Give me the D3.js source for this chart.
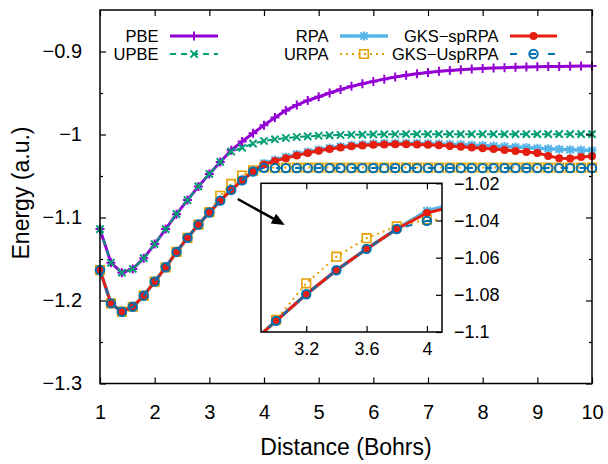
<!DOCTYPE html>
<html><head><meta charset="utf-8">
<script src="https://cdn.jsdelivr.net/npm/d3@7"></script>
<style>body{margin:0;background:#fff}svg{display:block}text{font-family:"Liberation Sans",Arial,Helvetica,sans-serif;fill:#000}</style>
</head><body><svg id="c" width="608" height="464"></svg>
<script>
// ---------------- data ----------------
const distance = [1.0,1.2,1.4,1.6,1.8,2.0,2.2,2.4,2.6,2.8,3.0,3.2,3.4,3.6,3.8,4.0,4.2,4.4,4.6,4.8,5.0,5.2,5.4,5.6,5.8,6.0,6.2,6.4,6.6,6.8,7.0,7.2,7.4,7.6,7.8,8.0,8.2,8.4,8.6,8.8,9.0,9.2,9.4,9.6,9.8,10.0];
const pbe = [-1.114,-1.1545,-1.1665,-1.162,-1.149,-1.132,-1.114,-1.096,-1.079,-1.0625,-1.0475,-1.033,-1.019,-1.0085,-0.9985,-0.9888,-0.9795,-0.971,-0.9645,-0.959,-0.9545,-0.95,-0.9458,-0.942,-0.9388,-0.936,-0.9333,-0.9308,-0.9287,-0.9268,-0.9252,-0.9239,-0.9228,-0.9219,-0.9211,-0.9204,-0.9199,-0.9195,-0.9191,-0.9188,-0.9185,-0.9182,-0.918,-0.9178,-0.9176,-0.9175];
const upbe = [-1.114,-1.1545,-1.1665,-1.162,-1.149,-1.132,-1.114,-1.096,-1.079,-1.0625,-1.0475,-1.033,-1.0205,-1.016,-1.011,-1.0078,-1.0058,-1.0042,-1.003,-1.0022,-1.0015,-1.001,-1.0006,-1.0003,-1.0001,-0.9999,-0.9998,-0.9997,-0.9996,-0.9996,-0.9996,-0.9996,-0.9996,-0.9996,-0.9996,-0.9996,-0.9996,-0.9996,-0.9996,-0.9996,-0.9996,-0.9996,-0.9996,-0.9996,-0.9996,-0.9996];
const rpa = [-1.1633,-1.2035,-1.2135,-1.2075,-1.1942,-1.1773,-1.16,-1.1415,-1.1245,-1.1085,-1.094,-1.0797,-1.0668,-1.0553,-1.0446,-1.0348,-1.0308,-1.0273,-1.024,-1.021,-1.0184,-1.0163,-1.0145,-1.0131,-1.012,-1.0112,-1.0107,-1.0105,-1.0105,-1.0107,-1.011,-1.0113,-1.0117,-1.0122,-1.0127,-1.0133,-1.0139,-1.0145,-1.0152,-1.0158,-1.0165,-1.0171,-1.0177,-1.0183,-1.0188,-1.0193];
const urpa = [-1.1633,-1.2035,-1.2135,-1.2075,-1.1942,-1.1773,-1.16,-1.1415,-1.1245,-1.1085,-1.0935,-1.0738,-1.0595,-1.0495,-1.0432,-1.0395,-1.0398,-1.0398,-1.0398,-1.0398,-1.0398,-1.0398,-1.0398,-1.0398,-1.0398,-1.0398,-1.0398,-1.0398,-1.0398,-1.0398,-1.0398,-1.0398,-1.0398,-1.0398,-1.0398,-1.0398,-1.0398,-1.0398,-1.0398,-1.0398,-1.0398,-1.0398,-1.0398,-1.0398,-1.0398,-1.0398];
const gksSpRpa = [-1.1633,-1.2035,-1.2135,-1.2075,-1.1942,-1.1773,-1.16,-1.1415,-1.1245,-1.1085,-1.094,-1.0797,-1.0668,-1.0553,-1.0446,-1.036,-1.032,-1.0285,-1.0252,-1.0222,-1.0196,-1.0175,-1.0157,-1.0143,-1.0132,-1.0124,-1.0119,-1.0117,-1.0117,-1.0119,-1.0124,-1.013,-1.0138,-1.0147,-1.0156,-1.0166,-1.0176,-1.0187,-1.0198,-1.021,-1.0222,-1.0258,-1.0285,-1.029,-1.027,-1.0262];
const gksUspRpa = [-1.1633,-1.2035,-1.2135,-1.2075,-1.1942,-1.1773,-1.16,-1.1415,-1.1245,-1.1085,-1.094,-1.0797,-1.0668,-1.0553,-1.0446,-1.0402,-1.0405,-1.0405,-1.0405,-1.0405,-1.0405,-1.0405,-1.0405,-1.0405,-1.0405,-1.0405,-1.0405,-1.0405,-1.0405,-1.0405,-1.0405,-1.0405,-1.0405,-1.0405,-1.0405,-1.0405,-1.0405,-1.0405,-1.0405,-1.0405,-1.0405,-1.0405,-1.0405,-1.0405,-1.0405,-1.0405];
const seriesNames = ["PBE","UPBE","RPA","URPA","GKS\u2212spRPA","GKS\u2212UspRPA"];
const insetSeries = [2,3,4,5];
const xTicks = [1,2,3,4,5,6,7,8,9,10];
const xTickLabels = ["1","2","3","4","5","6","7","8","9","10"];
const yTicks = [-1.3,-1.2,-1.1,-1,-0.9];
const yTickLabels = ["\u22121.3","\u22121.2","\u22121.1","\u22121","\u22120.9"];
const yMinorTicks = [-1.25,-1.15,-1.05,-0.95];
const insetXTicks = [3.2,3.6,4];
const insetXTickLabels = ["3.2","3.6","4"];
const insetYTicks = [-1.1,-1.08,-1.06,-1.04,-1.02];
const insetYTickLabels = ["\u22121.1","\u22121.08","\u22121.06","\u22121.04","\u22121.02"];
const arrowFrom = [3.52,-1.0777];
const arrowTo = [4.38,-1.109];

// ---------------- styles ----------------
const styles = [
  {color:"#9400d3", width:3, dash:null, marker:"plus"},
  {color:"#009e73", width:2, dash:"6,5", marker:"cross"},
  {color:"#56b4e9", width:3.5, dash:null, marker:"star"},
  {color:"#e69f00", width:2, dash:"2,4", marker:"square"},
  {color:"#e51e10", width:3, dash:null, marker:"dot"},
  {color:"#0072b2", width:2, dash:"7,12", marker:"ring"}
];
const allValues = [pbe, upbe, rpa, urpa, gksSpRpa, gksUspRpa];

function markerPath(t){
  const s=4.5, c=3.6, q=4.3, r=4.2;
  if(t==="plus") return `M${-s},0H${s}M0,${-s}V${s}`;
  if(t==="cross") return `M${-c},${-c}L${c},${c}M${-c},${c}L${c},${-c}`;
  if(t==="star") return `M${-s},0H${s}M0,${-s}V${s}M${-c},${-c}L${c},${c}M${-c},${c}L${c},${-c}`;
  if(t==="square") return `M${-q},${-q}H${q}V${q}H${-q}Z`;
  const rr = t==="dot"?4:r;
  return `M${rr},0A${rr},${rr} 0 1,1 ${-rr},0A${rr},${rr} 0 1,1 ${rr},0Z`;
}
function styleMarker(sel, st){
  if(st.marker==="dot") sel.attr("fill",st.color).attr("stroke","none");
  else sel.attr("fill","none").attr("stroke",st.color).attr("stroke-width", st.marker==="square"?1.6:2);
}

const svg = d3.select("#c");
const L=100, R=592, T=10, B=383.5;
const x = d3.scaleLinear().domain([1,10]).range([L,R]);
const y = d3.scaleLinear().domain([-1.3,-0.85]).range([B,T]);

svg.append("defs").append("clipPath").attr("id","mainclip").append("rect")
  .attr("x",L).attr("y",T).attr("width",R-L).attr("height",B-T);

function drawSeries(g, xs, ys, clipId, xdom, which){
  which.forEach(i=>{
    const vals = allValues[i];
    const st = styles[i];
    const pts = distance.map((d,j)=>({x:d,y:vals[j]}));
    const line = d3.line().x(d=>xs(d.x)).y(d=>ys(d.y));
    g.append("path").datum(pts).attr("d",line).attr("fill","none")
      .attr("stroke",st.color).attr("stroke-width",st.width)
      .attr("stroke-dasharray",st.dash).attr("stroke-linejoin","round")
      .attr("clip-path",`url(#${clipId})`);
    const yd = ys.domain();
    const inside = pts.filter(p=>p.x>=xdom[0]&&p.x<=xdom[1]&&p.y>=yd[0]&&p.y<=yd[1]);
    g.append("g").selectAll("path").data(inside).join("path")
      .attr("d",markerPath(st.marker))
      .attr("transform",d=>`translate(${xs(d.x)},${ys(d.y)})`)
      .call(styleMarker, st);
  });
}

const gMain = svg.append("g");
drawSeries(gMain, x, y, "mainclip", [1,10], [0,1,2,3,4,5]);

// main frame & ticks
const axG = svg.append("g");
const xAxisB = d3.axisBottom(x).tickValues(xTicks).tickSize(-6).tickPadding(21).tickFormat((d,i)=>xTickLabels[i]);
const xAxisT = d3.axisTop(x).tickValues(xTicks).tickSize(-6).tickFormat("");
const yAxisL = d3.axisLeft(y).tickValues(yTicks).tickSize(-6).tickPadding(18).tickFormat((d,i)=>yTickLabels[i]);
const yAxisR = d3.axisRight(y).tickValues(yTicks).tickSize(-6).tickFormat("");
const yMinL = d3.axisLeft(y).tickValues(yMinorTicks).tickSize(-3).tickFormat("");
const yMinR = d3.axisRight(y).tickValues(yMinorTicks).tickSize(-3).tickFormat("");
function styleAxis(g){ g.select(".domain").remove(); g.selectAll(".tick line").attr("stroke","#000").attr("stroke-width",1.2); g.selectAll("text").attr("font-size",20).attr("font-family","Liberation Sans, Arial, sans-serif"); }
axG.append("g").attr("transform",`translate(0,${B})`).call(xAxisB).call(styleAxis);
axG.append("g").attr("transform",`translate(0,${T})`).call(xAxisT).call(styleAxis);
axG.append("g").attr("transform",`translate(${L},0)`).call(yAxisL).call(styleAxis);
axG.append("g").attr("transform",`translate(${R},0)`).call(yAxisR).call(styleAxis);
axG.append("g").attr("transform",`translate(${L},0)`).call(yMinL).call(styleAxis);
axG.append("g").attr("transform",`translate(${R},0)`).call(yMinR).call(styleAxis);
axG.append("rect").attr("x",L).attr("y",T).attr("width",R-L).attr("height",B-T)
  .attr("fill","none").attr("stroke","#000").attr("stroke-width",1.5);

svg.append("text").attr("x",(L+R)/2).attr("y",447).attr("dy","0.35em").attr("text-anchor","middle")
  .attr("font-size",23).text("Distance (Bohrs)");
svg.append("text").attr("transform","translate(21,193) rotate(-90)").attr("dy","0.35em").attr("text-anchor","middle")
  .attr("font-size",23).text("Energy (a.u.)");

// legend
const legCols = [{tx:158.5, s0:170, s1:218},{tx:328.5, s0:340, s1:388},{tx:498.5, s0:510, s1:557}];
const legRows = [36, 54];
const lg = svg.append("g");
seriesNames.forEach((name,i)=>{
  const col = legCols[Math.floor(i/2)], ry = legRows[i%2], st = styles[i];
  lg.append("text").attr("x",col.tx).attr("y",ry).attr("dy","0.35em").attr("text-anchor","end")
    .attr("font-size",16.5).text(name);
  lg.append("line").attr("x1",col.s0).attr("x2",col.s1).attr("y1",ry).attr("y2",ry)
    .attr("stroke",st.color).attr("stroke-width",st.width).attr("stroke-dasharray",st.dash);
  lg.append("path").attr("d",markerPath(st.marker)).attr("transform",`translate(${(col.s0+col.s1)/2},${ry})`).call(styleMarker,st);
});

// inset
const iL=261, iR=442, iT=183.3, iB=332;
const xi = d3.scaleLinear().domain([2.9,4.1]).range([iL,iR]);
const yi = d3.scaleLinear().domain([-1.1,-1.02]).range([iB,iT]);
svg.select("defs").append("clipPath").attr("id","insetclip").append("rect")
  .attr("x",iL).attr("y",iT).attr("width",iR-iL).attr("height",iB-iT);
const gIn = svg.append("g");
gIn.append("rect").attr("x",iL).attr("y",iT).attr("width",iR-iL).attr("height",iB-iT).attr("fill","#fff");
drawSeries(gIn, xi, yi, "insetclip", [2.9,4.1], insetSeries);
const ixB = d3.axisBottom(xi).tickValues(insetXTicks).tickSize(-6).tickPadding(10).tickFormat((d,i)=>insetXTickLabels[i]);
const ixT = d3.axisTop(xi).tickValues(insetXTicks).tickSize(-6).tickFormat("");
const iyR = d3.axisRight(yi).tickValues(insetYTicks).tickSize(-6).tickPadding(12).tickFormat((d,i)=>insetYTickLabels[i]);
function styleInset(g){ g.select(".domain").remove(); g.selectAll(".tick line").attr("stroke","#000").attr("stroke-width",1.2); g.selectAll("text").attr("font-size",18).attr("font-family","Liberation Sans, Arial, sans-serif"); }
gIn.append("g").attr("transform",`translate(0,${iB})`).call(ixB).call(styleInset);
gIn.append("g").attr("transform",`translate(0,${iT})`).call(ixT).call(styleInset);
gIn.append("g").attr("transform",`translate(${iR},0)`).call(iyR).call(styleInset);
gIn.append("rect").attr("x",iL).attr("y",iT).attr("width",iR-iL).attr("height",iB-iT)
  .attr("fill","none").attr("stroke","#000").attr("stroke-width",1.5);

// arrow
const ax0=x(arrowFrom[0]), ay0=y(arrowFrom[1]), ax1=x(arrowTo[0]), ay1=y(arrowTo[1]);
const ang = Math.atan2(ay1-ay0, ax1-ax0), hl=13, hw=5.5;
const bx = ax1-hl*Math.cos(ang), by = ay1-hl*Math.sin(ang);
svg.append("line").attr("x1",ax0).attr("y1",ay0).attr("x2",bx).attr("y2",by).attr("stroke","#000").attr("stroke-width",2.5);
svg.append("path").attr("d",`M${ax1},${ay1}L${bx-hw*Math.sin(ang)},${by+hw*Math.cos(ang)}L${bx+hw*Math.sin(ang)},${by-hw*Math.cos(ang)}Z`).attr("fill","#000");
</script></body></html>
